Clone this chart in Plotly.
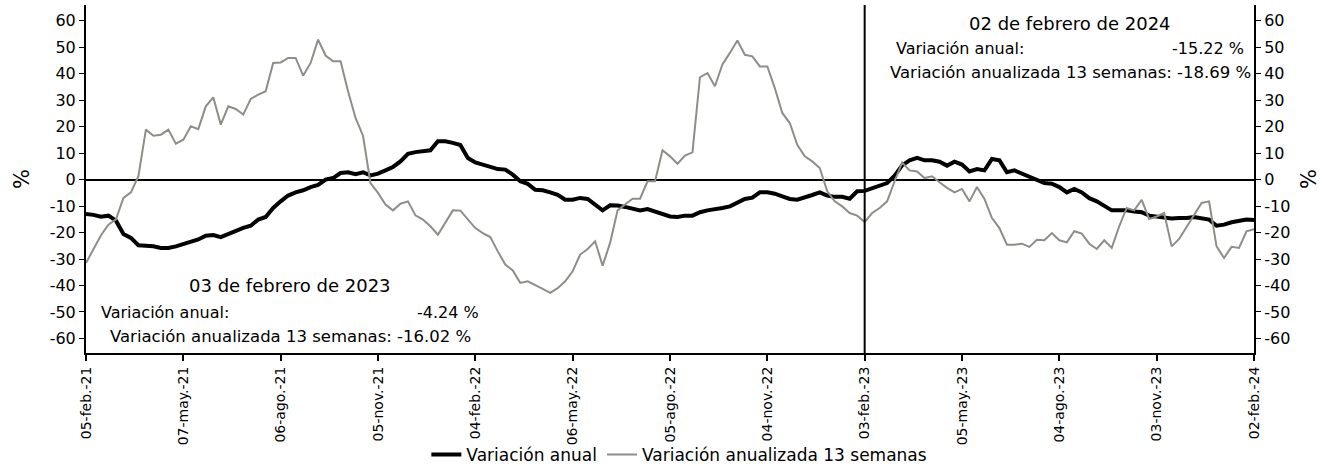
import pandas as pd
import plotly.graph_objects as go

dates = pd.date_range("2021-02-05", periods=157, freq="7D")

variacion_anual = [
    -13.0, -13.3, -14.0, -13.6, -15.5, -20.5, -22.0, -24.8, -25.0, -25.2,
    -25.8, -25.8, -25.2, -24.3, -23.3, -22.6, -21.2, -20.9, -21.7, -20.4,
    -19.5, -18.2, -17.4, -15.1, -14.1, -10.7, -8.2, -6.0, -4.8, -4.0,
    -2.8, -2.0, 0.0, 0.6, 2.5, 2.8, 2.1, 2.8, 1.6, 2.3,
    3.5, 4.8, 6.9, 9.8, 10.4, 10.7, 11.1, 14.5, 14.5, 13.9,
    13.1, 8.2, 6.5, 5.7, 4.7, 4.0, 3.8, 1.9, -0.6, -1.6,
    -3.8, -4.0, -4.8, -5.7, -7.6, -7.6, -6.9, -7.3, -9.4, -11.6,
    -9.7, -9.8, -10.3, -11.1, -11.6, -11.1, -12.0, -13.0, -13.9, -14.1,
    -13.6, -13.6, -12.3, -11.6, -11.3, -10.7, -10.1, -8.6, -7.3, -6.8,
    -4.8, -4.8, -5.3, -6.3, -7.3, -7.6, -6.5, -5.8, -4.8, -6.0,
    -6.5, -6.5, -7.2, -4.4, -4.24, -3.3, -2.5, -1.3, 1.5, 5.4,
    7.3, 8.2, 7.3, 7.3, 6.8, 5.3, 6.8, 5.7, 3.1, 4.0,
    3.5, 7.8, 7.3, 2.8, 3.5, 2.3, 1.3, 0.0, -1.3, -1.5,
    -2.8, -4.8, -3.5, -4.8, -7.0, -8.2, -10.1, -11.6, -11.6, -11.6,
    -12.0, -12.3, -13.6, -13.9, -14.5, -14.7, -14.5, -14.5, -14.1, -14.5,
    -15.1, -17.4, -17.0, -16.1, -15.7, -15.1, -15.22,
]

variacion_13_semanas = [
    -31.5, -26.0, -21.0, -17.0, -15.0, -6.9, -4.8, 1.3, 18.9, 16.6,
    17.0, 18.9, 13.6, 15.1, 20.2, 19.1, 27.7, 31.1, 20.8, 27.7,
    26.7, 24.6, 30.5, 32.1, 33.4, 44.1, 44.3, 46.0, 46.0, 39.3,
    44.1, 52.9, 46.9, 44.7, 44.7, 33.4, 23.3, 16.6, -1.3, -5.0,
    -9.4, -11.6, -9.1, -8.2, -13.5, -15.1, -17.6, -20.8, -16.1, -11.6,
    -11.7, -15.1, -18.3, -20.2, -21.7, -27.1, -32.1, -34.3, -39.0, -38.4,
    -40.0, -41.3, -42.8, -41.0, -38.4, -34.6, -28.3, -26.2, -23.3, -32.5,
    -23.9, -11.6, -9.4, -7.2, -7.2, -0.6, -0.6, 11.1, 8.8, 6.0,
    9.1, 10.3, 38.7, 40.3, 35.3, 43.5, 47.9, 52.6, 47.2, 46.6,
    42.8, 42.8, 34.6, 25.2, 21.4, 13.2, 8.8, 6.9, 4.4, -4.4,
    -8.2, -10.1, -12.6, -13.6, -16.02, -12.6, -10.7, -8.2, -0.6, 6.5,
    3.5, 3.1, 0.6, 1.3, -1.0, -3.1, -4.8, -3.5, -8.2, -2.8,
    -7.3, -14.5, -18.3, -24.6, -24.6, -24.2, -25.4, -22.7, -22.9, -20.2,
    -22.9, -23.7, -19.5, -20.4, -24.2, -26.2, -22.9, -25.8, -17.6, -10.7,
    -11.6, -7.6, -14.9, -13.9, -12.6, -25.2, -22.4, -17.9, -13.2, -8.8,
    -8.2, -25.2, -29.6, -25.4, -25.8, -19.5, -18.69,
]

tick_labels = [
    "05-feb.-21", "07-may.-21", "06-ago.-21", "05-nov.-21", "04-feb.-22",
    "06-may.-22", "05-ago.-22", "04-nov.-22", "03-feb.-23", "05-may.-23",
    "04-ago.-23", "03-nov.-23", "02-feb.-24",
]
tick_dates = list(dates[::13])
y_ticks = list(range(-60, 61, 10))
y_tick_labels = [str(v) for v in y_ticks]
marker_date = pd.Timestamp("2023-02-03")

FONT = "DejaVu Sans, Liberation Sans, Arial, sans-serif"
GRAY = "#8e8e89"

fig = go.Figure()
fig.add_trace(go.Scatter(x=dates, y=variacion_anual, mode="lines",
                         name="Variación anual",
                         line=dict(color="black", width=4)))
fig.add_trace(go.Scatter(x=dates, y=variacion_13_semanas, mode="lines",
                         name="Variación anualizada 13 semanas",
                         line=dict(color=GRAY, width=2)))
# invisible copy on the right-hand axis so that it gets drawn
fig.add_trace(go.Scatter(x=dates, y=variacion_anual, mode="lines",
                         yaxis="y2", showlegend=False, hoverinfo="skip",
                         line=dict(color="rgba(0,0,0,0)", width=0)))

yr = [-65.5, 66]
fig.update_layout(
    width=1335, height=466,
    margin=dict(l=86, r=81, t=5, b=113, autoexpand=False),
    paper_bgcolor="white", plot_bgcolor="white",
    font=dict(family=FONT, color="black", size=16),
    showlegend=True,
    legend=dict(orientation="h", x=0.508, xanchor="center", y=-0.293,
                yanchor="middle", font=dict(size=17),
                bgcolor="rgba(0,0,0,0)"),
    xaxis=dict(type="date", range=[dates[0], dates[-1]], automargin=False,
               tickvals=tick_dates, ticktext=tick_labels, tickangle=-90,
               ticks="outside", ticklen=6, tickwidth=1.5, tickcolor="black",
               showline=True, linecolor="black", linewidth=2,
               showgrid=False, zeroline=False, tickfont=dict(size=14)),
    yaxis=dict(range=yr, tickvals=y_ticks, ticktext=y_tick_labels,
               ticks="outside", ticklen=5,
               tickcolor="black", showline=True, linecolor="black",
               linewidth=2, showgrid=False, zeroline=True, automargin=False,
               zerolinecolor="black", zerolinewidth=1.5,
               title=dict(text="%", font=dict(size=21), standoff=14),
               tickfont=dict(size=16)),
    yaxis2=dict(range=yr, tickvals=y_ticks, ticktext=y_tick_labels,
                ticks="outside", ticklen=5,
                tickcolor="black", showline=True, linecolor="black",
                linewidth=2, showgrid=False, zeroline=False, automargin=False,
                overlaying="y", side="right", anchor="x",
                title=dict(text="%", font=dict(size=21), standoff=12),
                tickfont=dict(size=16)),
)

fig.add_shape(type="line", xref="x", yref="paper", x0=marker_date,
              x1=marker_date, y0=0, y1=1,
              line=dict(color="black", width=2))

def ann(text, x, y, xanchor="center", size=16):
    fig.add_annotation(text=text, xref="paper", yref="paper", x=x, y=y,
                       xanchor=xanchor, yanchor="middle", showarrow=False,
                       font=dict(size=size, family=FONT, color="black"))

ann("03 de febrero de 2023", 0.1747, 0.193, size=18)
ann("Variación anual:", 0.011, 0.115, xanchor="left")
ann("-4.24 %", 0.338, 0.115, xanchor="right")
ann("Variación anualizada 13 semanas: -16.02 %", 0.1747, 0.046, size=16.5)
ann("02 de febrero de 2024", 0.8425, 0.948, size=18)
ann("Variación anual:", 0.692, 0.874, xanchor="left")
ann("-15.22 %", 0.993, 0.874, xanchor="right")
ann("Variación anualizada 13 semanas: -18.69 %", 0.8425, 0.805, size=16.5)

fig.write_html(
    "out.html",
    config={"displayModeBar": False},
    post_script="document.body.style.margin='0';document.body.style.overflow='hidden';",
)
